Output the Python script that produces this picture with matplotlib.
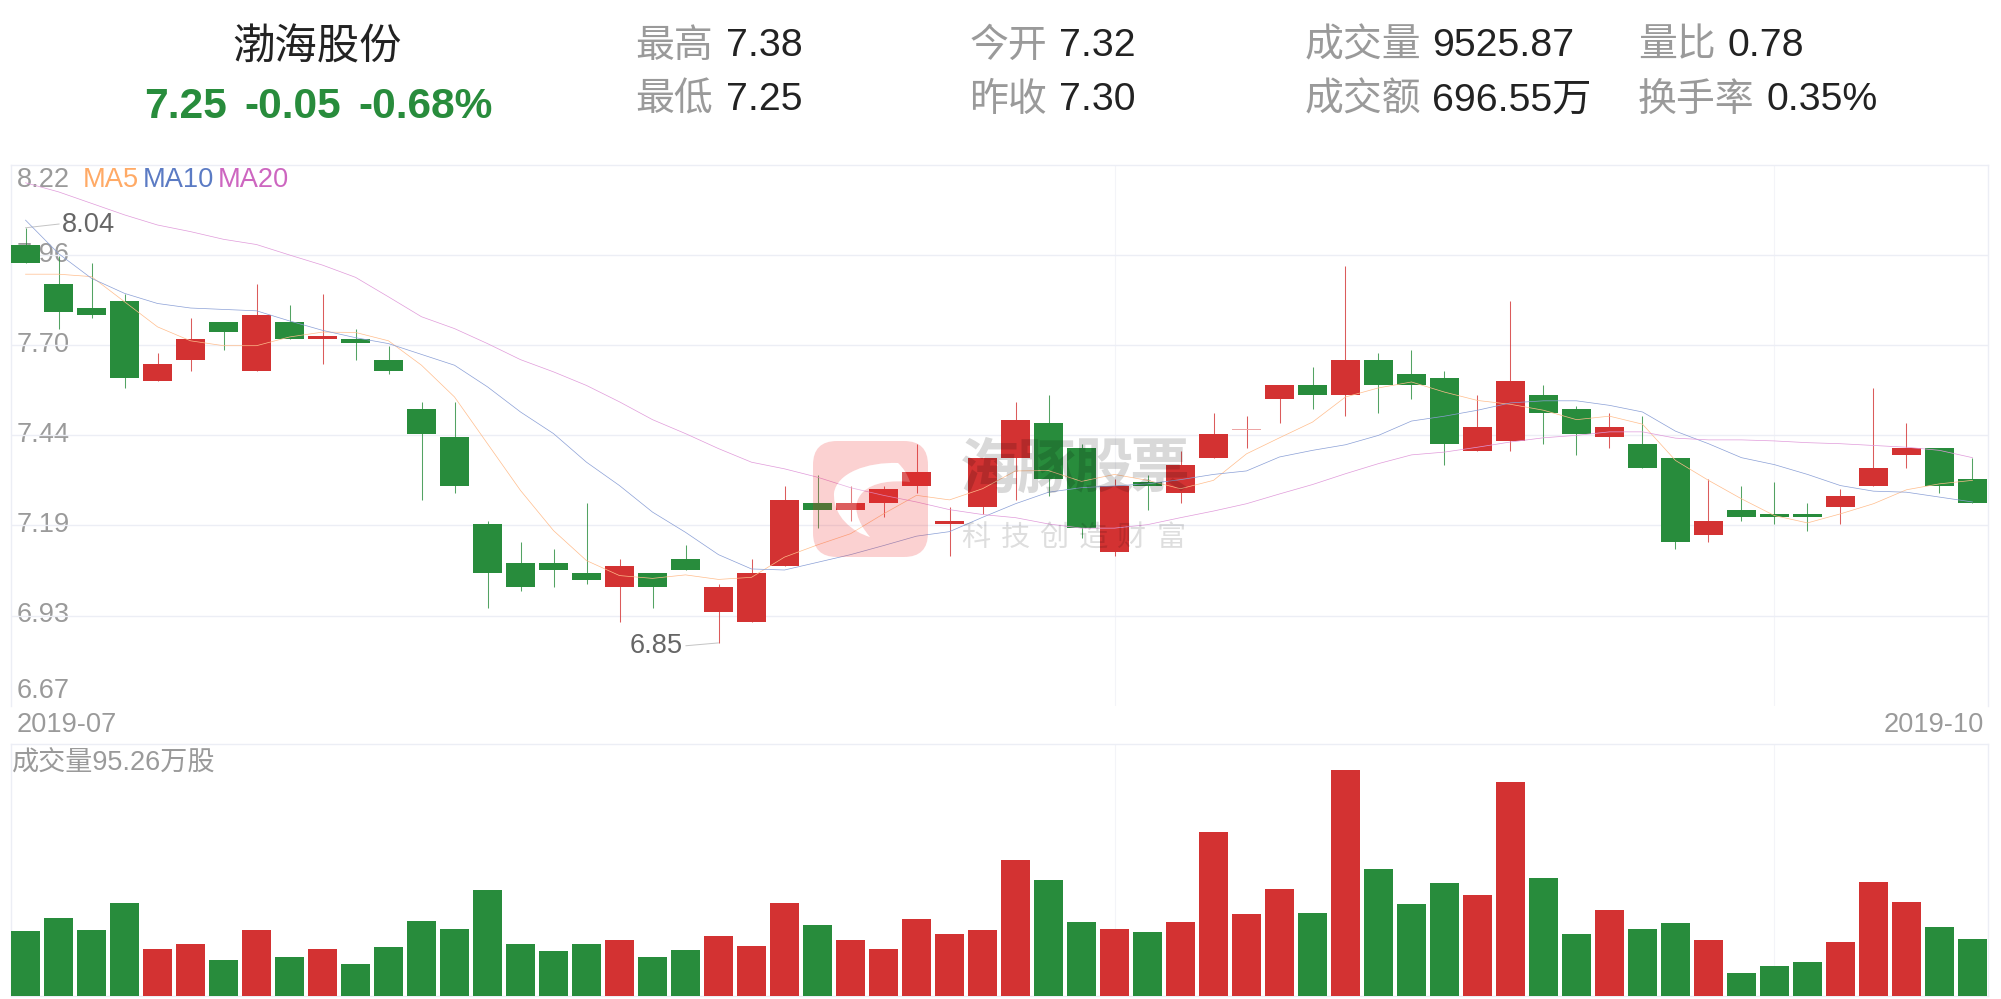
import numpy as np
import matplotlib
matplotlib.use('Agg')
import matplotlib.pyplot as plt
from matplotlib.patches import FancyBboxPatch, PathPatch
from matplotlib.path import Path

plt.rcParams['font.family'] = ['Liberation Sans', 'Noto Sans CJK SC', 'DejaVu Sans']

opens = [7.99, 7.88, 7.81, 7.83, 7.60, 7.66, 7.77, 7.63, 7.77, 7.72, 7.72, 7.66, 7.52, 7.44, 7.19,
         7.08, 7.08, 7.05, 7.01, 7.05, 7.09, 6.94, 6.91, 7.07, 7.25, 7.23, 7.25, 7.30, 7.19, 7.24,
         7.38, 7.48, 7.41, 7.11, 7.31, 7.28, 7.38, 7.46, 7.55, 7.59, 7.56, 7.66, 7.62, 7.61, 7.40,
         7.43, 7.56, 7.52, 7.44, 7.42, 7.38, 7.16, 7.23, 7.22, 7.22, 7.24, 7.30, 7.39, 7.41, 7.32]
closes = [7.94, 7.80, 7.79, 7.61, 7.65, 7.72, 7.74, 7.79, 7.72, 7.73, 7.71, 7.63, 7.45, 7.30, 7.05,
          7.01, 7.06, 7.03, 7.07, 7.01, 7.06, 7.01, 7.05, 7.26, 7.23, 7.25, 7.29, 7.34, 7.20, 7.38,
          7.49, 7.32, 7.18, 7.30, 7.30, 7.36, 7.45, 7.46, 7.59, 7.56, 7.66, 7.59, 7.59, 7.42, 7.47,
          7.60, 7.51, 7.45, 7.47, 7.35, 7.14, 7.20, 7.21, 7.21, 7.21, 7.27, 7.35, 7.41, 7.30, 7.25]
highs = [8.04, 7.96, 7.94, 7.85, 7.68, 7.78, 7.77, 7.88, 7.82, 7.85, 7.75, 7.70, 7.54, 7.54, 7.20,
         7.14, 7.12, 7.25, 7.09, 7.05, 7.13, 7.02, 7.09, 7.30, 7.33, 7.30, 7.30, 7.42, 7.24, 7.38,
         7.54, 7.56, 7.42, 7.32, 7.33, 7.40, 7.51, 7.50, 7.59, 7.64, 7.93, 7.68, 7.69, 7.63, 7.56,
         7.83, 7.59, 7.53, 7.51, 7.50, 7.38, 7.32, 7.30, 7.31, 7.25, 7.29, 7.58, 7.48, 7.41, 7.38]
lows = [7.94, 7.75, 7.78, 7.58, 7.60, 7.63, 7.69, 7.63, 7.72, 7.65, 7.66, 7.62, 7.26, 7.28, 6.95,
        7.00, 7.01, 7.02, 6.91, 6.95, 7.06, 6.85, 6.91, 7.07, 7.18, 7.20, 7.21, 7.28, 7.10, 7.22,
        7.26, 7.27, 7.15, 7.10, 7.23, 7.25, 7.38, 7.41, 7.48, 7.52, 7.50, 7.51, 7.55, 7.36, 7.40,
        7.40, 7.42, 7.39, 7.41, 7.35, 7.12, 7.14, 7.20, 7.19, 7.17, 7.19, 7.30, 7.35, 7.28, 7.25]
ma5 = [7.907, 7.907, 7.900, 7.828, 7.756, 7.716, 7.702, 7.702, 7.727, 7.741, 7.740, 7.716, 7.646, 7.555, 7.421,
       7.287, 7.172, 7.086, 7.043, 7.035, 7.045, 7.032, 7.038, 7.096, 7.131, 7.163, 7.220, 7.273, 7.260, 7.292,
       7.343, 7.344, 7.313, 7.333, 7.316, 7.292, 7.316, 7.392, 7.438, 7.483, 7.555, 7.581, 7.598, 7.569, 7.545,
       7.534, 7.517, 7.490, 7.500, 7.477, 7.373, 7.316, 7.263, 7.215, 7.194, 7.220, 7.249, 7.289, 7.306, 7.316]
ma10 = [8.062, 7.966, 7.895, 7.852, 7.823, 7.810, 7.806, 7.802, 7.773, 7.746, 7.725, 7.708, 7.677, 7.646, 7.584,
        7.512, 7.450, 7.368, 7.301, 7.225, 7.167, 7.103, 7.062, 7.059, 7.081, 7.103, 7.129, 7.156, 7.169, 7.210,
        7.249, 7.282, 7.295, 7.300, 7.306, 7.318, 7.333, 7.343, 7.383, 7.402, 7.418, 7.445, 7.486, 7.500, 7.517,
        7.538, 7.544, 7.544, 7.531, 7.512, 7.457, 7.421, 7.381, 7.361, 7.333, 7.301, 7.285, 7.282, 7.268, 7.254]
ma20 = [8.169, 8.143, 8.110, 8.077, 8.048, 8.029, 8.007, 7.992, 7.962, 7.933, 7.898, 7.842, 7.785, 7.751, 7.708,
        7.662, 7.627, 7.588, 7.541, 7.490, 7.450, 7.407, 7.368, 7.349, 7.325, 7.295, 7.273, 7.254, 7.232, 7.218,
        7.209, 7.191, 7.179, 7.179, 7.189, 7.209, 7.228, 7.249, 7.277, 7.304, 7.335, 7.364, 7.389, 7.397, 7.411,
        7.426, 7.438, 7.445, 7.455, 7.455, 7.437, 7.432, 7.432, 7.429, 7.424, 7.421, 7.416, 7.411, 7.402, 7.381]
volumes = [108.6, 130.3, 110.3, 155.4, 78.5, 86.9, 60.2, 110.3, 65.2, 78.5, 53.5, 81.9, 125.3, 112.0, 177.1,
           86.9, 75.2, 86.9, 93.6, 65.2, 76.9, 100.3, 83.6, 155.4, 118.6, 93.6, 78.5, 128.7, 103.6, 110.3,
           227.3, 193.8, 123.7, 112.0, 106.9, 123.7, 274.0, 137.0, 178.8, 138.7, 377.6, 212.2, 153.7, 188.8, 168.8,
           357.6, 197.2, 103.6, 143.7, 112.0, 122.0, 93.6, 38.4, 50.1, 56.8, 90.2, 190.5, 157.1, 115.3, 95.26]
price_ticks = [8.22, 7.96, 7.70, 7.44, 7.19, 6.93, 6.67]

red = '#d33232'
green = '#288c3c'
grid = '#eceef5'
gray = '#9a9a9a'
W, H = 2001, 999

fig = plt.figure(figsize=(W / 100, H / 100), dpi=100, facecolor='white')

# full size layer under the charts, in image pixels, for all the text
bg = fig.add_axes([0, 0, 1, 1], zorder=0)
bg.set_xlim(0, W)
bg.set_ylim(H, 0)
bg.axis('off')

ax = fig.add_axes([11 / W, 1 - 705.7 / H, 1977 / W, 540.7 / H], zorder=1)
ax2 = fig.add_axes([11 / W, 1 - 996 / H, 1977 / W, 252.3 / H], zorder=1)
ax.patch.set_alpha(0)
ax2.patch.set_alpha(0)

xs = np.arange(len(closes))
colors = [red if c >= o else green for o, c in zip(opens, closes)]
body_low = [min(o, c) for o, c in zip(opens, closes)]
body_h = [abs(o - c) for o, c in zip(opens, closes)]
# flat day, the chart only shows a thin pale line for it
body_h[37] = 0.002
body_colors = list(colors)
body_colors[37] = '#eda5a5'

ax.vlines(xs, lows, highs, colors=colors, lw=0.75, alpha=0.8, zorder=3)
ax.bar(xs, body_h, bottom=body_low, width=0.895, color=body_colors, linewidth=0, zorder=4)
ax.plot(xs, ma5, color='#ffbd8c', lw=0.5, zorder=5)
ax.plot(xs, ma10, color='#8a9fd6', lw=0.5, zorder=5)
ax.plot(xs, ma20, color='#e09ada', lw=0.5, zorder=5)

ax2.bar(xs, volumes, width=0.895, color=colors, linewidth=0, zorder=3)

for a in (ax, ax2):
    a.set_xlim(-0.44, 59.47)
    a.set_xticks([33, 53])
    a.set_xticklabels([])
    a.tick_params(length=0)
    a.grid(True, axis='x', color='#f3f4f8', lw=0.8)
    a.set_axisbelow(True)
    for s in a.spines.values():
        s.set_color(grid)
        s.set_linewidth(1)
ax.set_ylim(6.67, 8.22)
# grid splits the range evenly, the printed labels are rounded
ax.set_yticks(np.linspace(6.67, 8.22, 7)[1:-1])
ax.set_yticklabels([])
ax.grid(True, axis='y', color=grid, lw=1)
ax.spines['bottom'].set_visible(False)
ax2.set_ylim(0, 421.5)
ax2.set_yticks([])

# annotations for the high and the low
ax.annotate('8.04', xy=(xs[0], highs[0]), xytext=(62, 225), textcoords=bg.transData,
            fontsize=19.6, color='#666666', va='center', ha='left',
            arrowprops=dict(arrowstyle='-', color='#c4c4c4', lw=0.7, shrinkA=0, shrinkB=0,
                            relpos=(0, 0.55)))
ax.annotate('6.85', xy=(xs[21], lows[21]), xytext=(683, 646), textcoords=bg.transData,
            fontsize=19.6, color='#666666', va='center', ha='right',
            arrowprops=dict(arrowstyle='-', color='#c4c4c4', lw=0.7, shrinkA=0, shrinkB=0,
                            relpos=(1, 0.5)))

# header
bg.text(317, 49, '渤海股份', fontsize=30.5, color='#222222', ha='center', va='center')
bg.text(144.5, 107, '7.25', fontsize=30.6, color=green, weight='bold', va='center')
bg.text(244, 107, '-0.05', fontsize=30.6, color=green, weight='bold', va='center')
bg.text(358, 107, '-0.68%', fontsize=30.6, color=green, weight='bold', va='center')

head_labels = ['最高', '最低', '今开', '昨收', '成交量', '成交额', '量比', '换手率']
head_values = ['7.38', '7.25', '7.32', '7.30', '9525.87', '696.55万', '0.78', '0.35%']
head_label_x = [635.5, 635.5, 969.5, 969.5, 1304.5, 1304.5, 1638, 1638]
head_value_x = [726, 726, 1059, 1059, 1432, 1432, 1727.5, 1767]
head_y = [46.5, 100.5, 46.5, 100.5, 46.5, 100.5, 46.5, 100.5]
for lab, val, lx, vx, y in zip(head_labels, head_values, head_label_x, head_value_x, head_y):
    bg.text(lx, y, lab, fontsize=28, color=gray, va='center')
    bg.text(vx, y, val, fontsize=28.3, color='#222222', va='center')

# axis labels, under the candles like in the chart
label_y = [180, 255, 345, 435, 525, 615, 691]
for v, y in zip(price_ticks, label_y):
    bg.text(17, y, '%.2f' % v, fontsize=19.6, color=gray, va='center')
bg.text(83, 180, 'MA5', fontsize=19.6, color='#ffaa66', va='center')
bg.text(143, 180, 'MA10', fontsize=19.6, color='#5b7bc4', va='center')
bg.text(218, 180, 'MA20', fontsize=19.6, color='#cd66c0', va='center')
bg.text(17, 725, '2019-07', fontsize=19.6, color=gray, va='center')
bg.text(1984, 725, '2019-10', fontsize=19.6, color=gray, va='center', ha='right')
bg.text(11.5, 763.5, '成交量95.26万股', fontsize=19.5, color=gray, va='center')

# watermark on top of everything
wm = fig.add_axes([0, 0, 1, 1], zorder=2)
wm.set_xlim(0, W)
wm.set_ylim(H, 0)
wm.axis('off')
wm.patch.set_alpha(0)

box = FancyBboxPatch((833, 461), 75, 76, boxstyle='round,pad=20,rounding_size=24')
swirl_pts = [(898, 463), (867, 462), (837, 473), (834, 493), (833, 517), (853, 532), (870, 537),
             (858, 523), (850, 505), (863, 492), (873, 482), (893, 480), (910, 482),
             (907, 473), (903, 468), (898, 463)]
swirl_codes = [Path.MOVETO] + [Path.CURVE4] * 15
swirl = Path(swirl_pts, swirl_codes)
icon = Path.make_compound_path(box.get_path(), swirl)
wm.add_patch(PathPatch(icon, facecolor='#f02828', alpha=0.21, linewidth=0))
wm.add_patch(PathPatch(swirl, facecolor='white', alpha=0.22, linewidth=0))

wm_title = '海豚股票'
wm_sub = '科技创造财富'
for i, ch in enumerate(wm_title):
    wm.text(990 + i * 56.5, 472, ch, fontsize=43, color='black', alpha=0.15,
            ha='center', va='center', weight='bold')
for i, ch in enumerate(wm_sub):
    wm.text(976 + i * 39, 538, ch, fontsize=21, color='black', alpha=0.13,
            ha='center', va='center')

fig.savefig('out.png', dpi=100)
